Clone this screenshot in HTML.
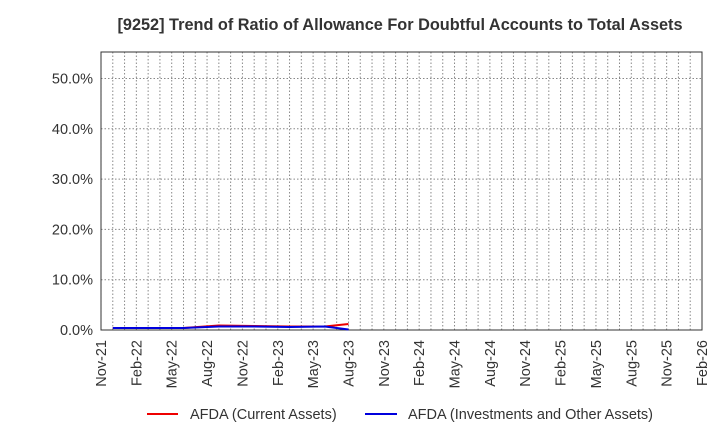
<!DOCTYPE html>
<html><head><meta charset="utf-8"><style>body{margin:0;background:#fff}svg{display:block}text{font-family:"Liberation Sans",Arial,sans-serif;fill:#333}</style></head><body>
<svg width="720" height="440" xmlns="http://www.w3.org/2000/svg">
<defs>
<pattern id="vp" patternUnits="userSpaceOnUse" x="100.5" y="52" width="11.7843" height="278">
<line x1="0.5" y1="0" x2="0.5" y2="278" stroke="#888" stroke-width="1" stroke-dasharray="1.5,2"/>
</pattern>
</defs>
<text x="400" y="30" text-anchor="middle" font-size="16.3" font-weight="bold">[9252]  Trend of Ratio of Allowance For Doubtful Accounts to Total Assets</text>
<rect x="101" y="52" width="601" height="278" fill="url(#vp)"/>
<g stroke="#888" stroke-dasharray="1.5,2">
<line x1="101" y1="279.7" x2="702" y2="279.7"/>
<line x1="101" y1="229.4" x2="702" y2="229.4"/>
<line x1="101" y1="179.1" x2="702" y2="179.1"/>
<line x1="101" y1="128.8" x2="702" y2="128.8"/>
<line x1="101" y1="78.5" x2="702" y2="78.5"/>
</g>
<rect x="101" y="52" width="601" height="278" fill="none" stroke="#333"/>
<g font-size="14.5" text-anchor="end">
<text x="93" y="335">0.0%</text>
<text x="93" y="284.7">10.0%</text>
<text x="93" y="234.4">20.0%</text>
<text x="93" y="184.1">30.0%</text>
<text x="93" y="133.8">40.0%</text>
<text x="93" y="83.5">50.0%</text>
<text transform="translate(106,340) rotate(-90)">Nov-21</text>
<text transform="translate(141.4,340) rotate(-90)">Feb-22</text>
<text transform="translate(176.7,340) rotate(-90)">May-22</text>
<text transform="translate(212.1,340) rotate(-90)">Aug-22</text>
<text transform="translate(247.4,340) rotate(-90)">Nov-22</text>
<text transform="translate(282.8,340) rotate(-90)">Feb-23</text>
<text transform="translate(318.1,340) rotate(-90)">May-23</text>
<text transform="translate(353.5,340) rotate(-90)">Aug-23</text>
<text transform="translate(388.8,340) rotate(-90)">Nov-23</text>
<text transform="translate(424.2,340) rotate(-90)">Feb-24</text>
<text transform="translate(459.5,340) rotate(-90)">May-24</text>
<text transform="translate(494.9,340) rotate(-90)">Aug-24</text>
<text transform="translate(530.2,340) rotate(-90)">Nov-24</text>
<text transform="translate(565.6,340) rotate(-90)">Feb-25</text>
<text transform="translate(600.9,340) rotate(-90)">May-25</text>
<text transform="translate(636.3,340) rotate(-90)">Aug-25</text>
<text transform="translate(671.6,340) rotate(-90)">Nov-25</text>
<text transform="translate(707,340) rotate(-90)">Feb-26</text>
</g>
<polyline points="112.8,328 148.1,328 183.5,328 218.8,325.5 254.2,326 289.5,326.5 324.9,326.5 348.5,324" fill="none" stroke="#e00" stroke-width="2"/>
<polyline points="112.8,328 148.1,328 183.5,328 218.8,326.5 254.2,326.5 289.5,327 324.9,326.5 348.5,329.5" fill="none" stroke="#00d" stroke-width="2"/>
<line x1="147" y1="414" x2="178" y2="414" stroke="#e00" stroke-width="2"/>
<text x="190" y="419" font-size="14.5">AFDA (Current Assets)</text>
<line x1="365" y1="414" x2="397" y2="414" stroke="#00d" stroke-width="2"/>
<text x="408" y="419" font-size="14.5">AFDA (Investments and Other Assets)</text>
</svg>
</body></html>
